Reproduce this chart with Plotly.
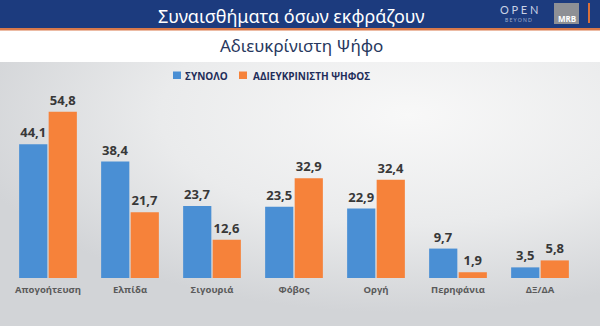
import base64
import plotly.graph_objects as go

# Emotions expressed by voters (%), all respondents vs. undecided voters
categories = ["Απογοήτευση", "Ελπίδα", "Σιγουριά", "Φόβος", "Οργή", "Περηφάνια", "ΔΞ/ΔΑ"]
total_values = [44.1, 38.4, 23.7, 23.5, 22.9, 9.7, 3.5]
undecided_values = [54.8, 21.7, 12.6, 32.9, 32.4, 1.9, 5.8]
series_names = ["ΣΥΝΟΛΟ", "ΑΔΙΕΥΚΡΙΝΙΣΤΗ ΨΗΦΟΣ"]
series_colors = ["#4a8fd4", "#f6823a"]

title_text = "Συναισθήματα όσων εκφράζουν"
subtitle_text = "Αδιευκρίνιστη Ψήφο"

W, H = 600, 326
ML, MR, MT, MB = 7, 19, 96, 48
PW, PH = W - ML - MR, H - MT - MB


def px_x(x):
    return (x - ML) / PW


def px_y(y):
    return (H - MB - y) / PH


def fmt(v):
    return f"{v:.1f}".replace(".", ",")


fig = go.Figure()
for name, vals, col in zip(series_names, [total_values, undecided_values], series_colors):
    fig.add_trace(go.Bar(
        x=categories, y=vals, name=name,
        marker=dict(color=col, line=dict(width=0)),
        text=[fmt(v) for v in vals], textposition="outside",
        constraintext="none", cliponaxis=False,
        textfont=dict(family="Open Sans", size=13, color="#383838", weight="bold"),
        showlegend=False, hoverinfo="skip",
    ))

# soft grey backdrop below the white subtitle strip
svg = (
    '<svg xmlns="http://www.w3.org/2000/svg" width="600" height="264" '
    'viewBox="0 0 600 264" preserveAspectRatio="none">'
    '<defs><radialGradient id="g" cx="0.68" cy="0.2" r="0.75">'
    '<stop offset="0" stop-color="#f8f8f8"/>'
    '<stop offset="0.55" stop-color="#eaebec"/>'
    '<stop offset="1" stop-color="#d2d4d7"/>'
    '</radialGradient></defs>'
    '<rect width="600" height="264" fill="url(#g)"/></svg>'
)
bg_src = "data:image/svg+xml;base64," + base64.b64encode(svg.encode()).decode()
fig.add_layout_image(dict(
    source=bg_src, xref="paper", yref="paper",
    x=px_x(0), y=px_y(62), sizex=W / PW, sizey=264 / PH,
    sizing="stretch", xanchor="left", yanchor="top", layer="below",
))

shapes = [
    # header band and its orange rule
    dict(type="rect", x0=px_x(0), x1=px_x(W), y0=px_y(0), y1=px_y(28),
         fillcolor="#1c3b7e", line_width=0),
    dict(type="rect", x0=px_x(0), x1=px_x(W), y0=px_y(28), y1=px_y(30.5),
         fillcolor="#d9794a", line_width=0),
    # MRB badge
    dict(type="rect", x0=px_x(554), x1=px_x(579), y0=px_y(3), y1=px_y(24),
         fillcolor="#8e9095", line_width=0),
    # orange divider at the right of the header
    dict(type="line", x0=px_x(589), x1=px_x(589), y0=px_y(3), y1=px_y(23),
         line=dict(color="#d9703a", width=2)),
]
# legend swatches
for col, x0 in zip(series_colors, [173, 239]):
    shapes.append(dict(type="rect", x0=px_x(x0), x1=px_x(x0 + 8),
                       y0=px_y(71.5), y1=px_y(79), fillcolor=col, line_width=0))
for s in shapes:
    s.update(xref="paper", yref="paper", layer="below")

annotations = [
    dict(text=title_text, x=px_x(291), y=px_y(16),
         font=dict(family="Noto Sans", size=18, color="#ffffff")),
    dict(text=subtitle_text, x=px_x(301), y=px_y(45),
         font=dict(family="Noto Sans", size=17, color="#27385e")),
    dict(text="O P E N", x=px_x(519), y=px_y(10),
         font=dict(family="Lato", size=11, color="#c9d2e4")),
    dict(text="B E Y O N D", x=px_x(518), y=px_y(20),
         font=dict(family="Lato", size=5, color="#9fb0d0")),
    dict(text="<b>MRB</b>", x=px_x(566.5), y=px_y(18),
         font=dict(family="Open Sans", size=8, color="#ffffff")),
]
for name, x0 in zip(series_names, [183, 251]):
    annotations.append(dict(text=name, x=px_x(x0), y=px_y(75.5), xanchor="left",
                            font=dict(family="Open Sans", size=10, color="#1f2d5a",
                                      weight="bold")))
for a in annotations:
    a.update(xref="paper", yref="paper", showarrow=False)
    a.setdefault("xanchor", "center")
    a.setdefault("yanchor", "middle")

fig.update_layout(
    width=W, height=H, margin=dict(l=ML, r=MR, t=MT, b=MB),
    paper_bgcolor="#ffffff", plot_bgcolor="rgba(0,0,0,0)",
    barmode="group", bargap=0.28, bargroupgap=0.045,
    shapes=shapes, annotations=annotations,
    xaxis=dict(showgrid=False, showline=False, zeroline=False,
               ticks="outside", ticklen=3, tickcolor="rgba(0,0,0,0)",
               tickfont=dict(family="Open Sans", size=9.5, color="#5a5a5a",
                             weight="bold")),
    yaxis=dict(range=[0, 60], visible=False, fixedrange=True),
)

fig.write_html("out.html")
